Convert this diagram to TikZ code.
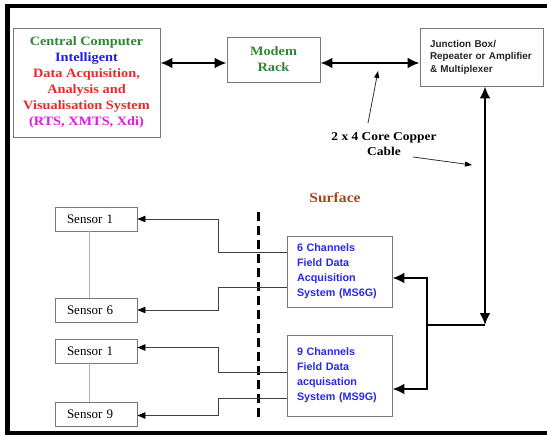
\documentclass[tikz,border=0pt]{standalone}
\usepackage{fontspec}
\setmainfont{Liberation Serif}
\newfontfamily\wideserif[FakeStretch=1.12]{Liberation Serif}
\newfontfamily\labelsans{Liberation Sans}
\usetikzlibrary{arrows.meta,calc}

\definecolor{ccgreen}{RGB}{45,135,55}
\definecolor{intblue}{RGB}{30,30,230}
\definecolor{dared}{RGB}{235,40,40}
\definecolor{ccmag}{RGB}{220,30,220}
\definecolor{msblue}{RGB}{40,40,235}
\definecolor{surf}{RGB}{165,70,30}
\definecolor{boxgray}{RGB}{120,120,120}

\begin{document}
\begin{tikzpicture}[x=1pt,y=-1pt,
  box/.style={draw=boxgray, line width=0.9pt, fill=white, inner sep=0pt},
  sensorbox/.style={box, minimum width=82pt, minimum height=24pt,
    text width=58pt, inner xsep=12pt, align=left,
    font=\fontsize{13}{15}\selectfont},
  msbox/.style={box, minimum width=105pt, text width=85pt, inner xsep=10pt,
    align=left, text=msblue,
    font=\labelsans\bfseries\fontsize{10.8}{15}\selectfont},
  serifbold/.style={font=\wideserif\bfseries\fontsize{#1}{16}\selectfont},
  bus/.style={line width=2.6pt, line join=miter},
  dbl/.style={{Latex[length=12pt,width=11pt]}-{Latex[length=12pt,width=11pt]}},
  sig/.style={draw=black!75, line width=0.8pt,
    -{Triangle[length=8pt,width=6.5pt,color=black]}},
  ptr/.style={draw=black!80, line width=0.8pt,
    -{Triangle[length=7pt,width=5pt,color=black]}},
]
\useasboundingbox (0,0) rectangle (547,439);

% ---- top row: computer, modem rack, junction box
\node[box, minimum width=147pt, minimum height=109pt, align=center,
      serifbold=12.8] (cc) at (86.5,82.5)
  {\textcolor{ccgreen}{Central Computer}\\
   \textcolor{intblue}{Intelligent}\\
   \textcolor{dared}{Data Acquisition,}\\
   \textcolor{dared}{Analysis and}\\
   \textcolor{dared}{Visualisation System}\\
   \textcolor{ccmag}{(RTS, XMTS, Xdi)}};

\node[box, minimum width=93pt, minimum height=45pt, align=center,
      serifbold=12.8, text=ccgreen] (mr) at (273.5,59.5) {Modem\\Rack};

\node[box, minimum width=123pt, minimum height=58pt, text width=103pt,
      inner xsep=10pt, align=left, text=black!85,
      font=\labelsans\bfseries\fontsize{9.9}{12.5}\selectfont] (jb) at (481.5,57)
  {Junction Box/\\Repeater or Amplifier\\\& Multiplexer};

\draw[bus,dbl] (cc.east |- 0,63) -- (mr.west |- 0,63);
\draw[bus,dbl] (mr.east |- 0,63) -- (jb.west |- 0,63);

% ---- cable label with its pointers
\node[align=center, font=\wideserif\bfseries\fontsize{12}{15}\selectfont]
  (cable) at (384,144) {2 x 4 Core Copper\\Cable};
\coordinate (p1) at (368,123);
\coordinate (p1tip) at (378,71);
\coordinate (p2) at (413,157);
\coordinate (p2tip) at (472,165);
\draw[ptr] (p1) -- (p1tip);
\draw[ptr] (p2) -- (p2tip);

% ---- field acquisition systems
\node[msbox, minimum height=71pt] (ms6) at (339.5,271.5)
  {6 Channels\\Field Data\\Acquisition\\System (MS6G)};
\node[msbox, minimum height=81pt] (ms9) at (339.5,375.5)
  {9 Channels\\Field Data\\acquisation\\System (MS9G)};

\node[serifbold=14, text=surf] (surface) at (335,198) {Surface};

% ---- trunk cable down to the field systems
\coordinate (bend) at (485,325);
\coordinate (split) at (427,325);
\draw[bus,dbl] (jb.south -| bend) -- (bend);
\draw[bus] (bend) -- (split);
\draw[bus,dbl] (ms6.east |- 0,278) -- (split |- 0,278)
  -- (split |- 0,389) -- (ms9.east |- 0,389);

% ---- surface boundary
\coordinate (dtop) at (258,212);
\coordinate (dbot) at (258,421);
\draw[line width=3pt, dash pattern=on 9pt off 5pt] (dtop) -- (dbot);

% ---- sensors
\node[sensorbox] (s1)  at (96,219)   {Sensor 1};
\node[sensorbox] (s6)  at (96,310)   {Sensor 6};
\node[sensorbox] (s1b) at (96,351)   {Sensor 1};
\node[sensorbox] (s9)  at (96,414.5) {Sensor 9};

\draw[black!30, line width=0.8pt] ([xshift=-7pt]s1.south) -- ([xshift=-7pt]s6.north);
\draw[black!30, line width=0.8pt] ([xshift=-7pt]s1b.south) -- ([xshift=-7pt]s9.north);

\coordinate (col) at (218,0);
\path ([yshift=19.5pt]ms6.west) coordinate (a1)
      ([yshift=-15.5pt]ms6.west) coordinate (a2)
      ([yshift=3.5pt]ms9.west) coordinate (a3)
      ([yshift=-22.5pt]ms9.west) coordinate (a4);
\draw[sig] (a1) -- (a1 -| col) |- (s1.east);
\draw[sig] (a2) -- (a2 -| col) |- (s6.east);
\draw[sig] (a3) -- (a3 -| col) |- ([yshift=3.5pt]s1b.east);
\draw[sig] (a4) -- (a4 -| col) |- ([yshift=-1pt]s9.east);

% ---- outer frame (its right side runs past the edge of the page)
\draw[line width=4.5pt, line join=miter] (547,6) -- (7.5,6) -- (7.5,433) -- (547,433);
\end{tikzpicture}
\end{document}
